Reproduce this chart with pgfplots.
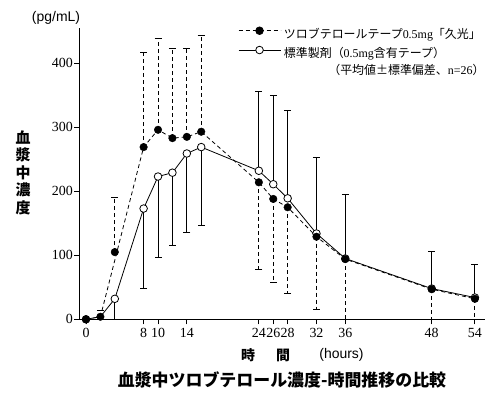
\documentclass[border=0pt]{standalone}
\usepackage{pgfplots}
\pgfplotsset{compat=1.18}
\usepackage{fontspec}
\setmainfont{Liberation Serif}
\newfontfamily\cjk{Noto Sans CJK JP}
\newfontfamily\sansf{Liberation Sans}
\begin{document}
\begin{tikzpicture}[x=1bp,y=1bp]
\path[use as bounding box] (-79.3,-75.7) rectangle (414.7,319.3);
\begin{axis}[
  at={(0,0)}, anchor=south west,
  scale only axis, width=405.7bp, height=291.3bp,
  xmin=-0.93, xmax=55.4, ymin=0, ymax=455,
  axis x line*=bottom, axis y line*=left,
  axis line style={line width=1bp},
  xtick={0,8,10,14,24,26,28,32,36,48,54},
  ytick={0,100,200,300,400},
  tick align=outside, major tick length=5bp,
  tick style={line width=0.9bp, black},
  tick label style={font=\fontsize{14}{14}\selectfont},
  yticklabel style={xshift=2bp},
  /pgf/number format/assume math mode=true,
  clip=false,
  legend style={draw=none, fill=none, at={(0.391,0.946)}, anchor=west, inner sep=0pt, row sep=5bp, column sep=3bp, font=\cjk\fontsize{12}{12}\selectfont, nodes={inner sep=0pt, text height=10bp, text depth=3bp}},
  legend cell align=left,
  legend image code/.code={\draw[#1, mark repeat=2, mark phase=2] plot coordinates {(0bp,4bp) (21bp,4bp) (42bp,4bp)};},
]
\addlegendimage{black, line width=0.8bp, dash pattern=on 4bp off 3bp, mark=*, mark size=3.8bp, mark options={solid, fill=black}}
\addlegendentry{ツロブテロールテープ{\rmfamily 0.5mg}「久光」}
\addlegendimage{black, line width=0.8bp, mark=*, mark size=3.8bp, mark options={solid, fill=white}}
\addlegendentry{標準製剤（{\rmfamily 0.5mg}含有テープ）}

% white (reference) line
\addplot[black, line width=0.8bp, mark=none, forget plot] coordinates {
 (0,0) (2,4) (4,32) (8,173) (10,223) (12,229) (14,259) (16,269)
 (24,232) (26,211) (28,189) (32,134) (36,95) (48,48) (54,34)};
% black (test) line
\addplot[black, line width=0.8bp, dash pattern=on 4bp off 3bp, mark=none, forget plot] coordinates {
 (0,0) (2,4) (8,269) (10,296) (12,283) (14,285) (16,293)
 (24,214) (26,188) (28,175) (32,129) (36,94) (48,47) (54,32)};

% white error bars down
\addplot[black, only marks, mark=*, mark size=3.8bp, mark options={solid, fill=white, line width=0.8bp}, forget plot,
  error bars/.cd, y dir=minus, y explicit, error mark=-,
  error bar style={line width=1bp, solid},
  error mark options={rotate=90, solid, line width=1bp, mark size=3.5bp}]
 coordinates {(0,0) +- (0,0) (4,32) +- (0,32) (8,173) +- (0,125) (10,223) +- (0,126) (12,229) +- (0,113) (14,259) +- (0,123) (16,269) +- (0,122)};
% white error bars up
\addplot[black, only marks, mark=*, mark size=3.8bp, mark options={solid, fill=white, line width=0.8bp}, forget plot,
  error bars/.cd, y dir=plus, y explicit, error mark=-,
  error bar style={line width=1bp, solid},
  error mark options={rotate=90, solid, line width=1bp, mark size=3.5bp}]
 coordinates {(24,232) +- (0,124) (26,211) +- (0,138) (28,189) +- (0,137) (32,134) +- (0,118) (36,95) +- (0,100) (48,48) +- (0,58) (54,34) +- (0,52)};

% black error bars up
\addplot[black, only marks, mark=*, mark size=3.8bp, mark options={solid, fill=black}, forget plot,
  error bars/.cd, y dir=plus, y explicit, error mark=-,
  error bar style={line width=1bp, dash pattern=on 4bp off 3bp},
  error mark options={rotate=90, solid, line width=1bp, mark size=3.5bp}]
 coordinates {(2,4) +- (0,9) (4,105) +- (0,85) (8,269) +- (0,148) (10,296) +- (0,142) (12,283) +- (0,140) (14,285) +- (0,138) (16,293) +- (0,150)};
% black error bars down
\addplot[black, only marks, mark=*, mark size=3.8bp, mark options={solid, fill=black}, forget plot,
  error bars/.cd, y dir=minus, y explicit, error mark=-,
  error bar style={line width=1bp, dash pattern=on 4bp off 3bp},
  error mark options={rotate=90, solid, line width=1bp, mark size=3.5bp}]
 coordinates {(0,0) +- (0,0) (24,214) +- (0,136) (26,188) +- (0,130) (28,175) +- (0,134) (32,129) +- (0,114) (36,94) +- (0,94) (48,47) +- (0,47) (54,32) +- (0,32)};
\end{axis}
\node[font=\sansf\fontsize{14}{14}\selectfont] at (-23.3,301.3) {(pg/mL)};
\node[font=\cjk\bfseries\fontsize{15}{17.5}\selectfont, align=center] at (-56.3,146.8) {血\\漿\\中\\濃\\度};
\node[font=\cjk\bfseries\fontsize{14}{14}\selectfont] at (168.7,-35.7) {時};
\node[font=\cjk\bfseries\fontsize{14}{14}\selectfont] at (203.7,-35.7) {間};
\node[font=\sansf\fontsize{14}{14}\selectfont] at (262.2,-35.7) {(hours)};
\node[font=\cjk\bfseries\fontsize{17}{17}\selectfont] at (202.7,-60.7) {血漿中ツロブテロール濃度-時間推移の比較};
\node[font=\cjk\fontsize{12}{12}\selectfont, anchor=east] at (408.7,249.3) {（平均値±標準偏差、{\rmfamily n=26}）};
\end{tikzpicture}
\end{document}
